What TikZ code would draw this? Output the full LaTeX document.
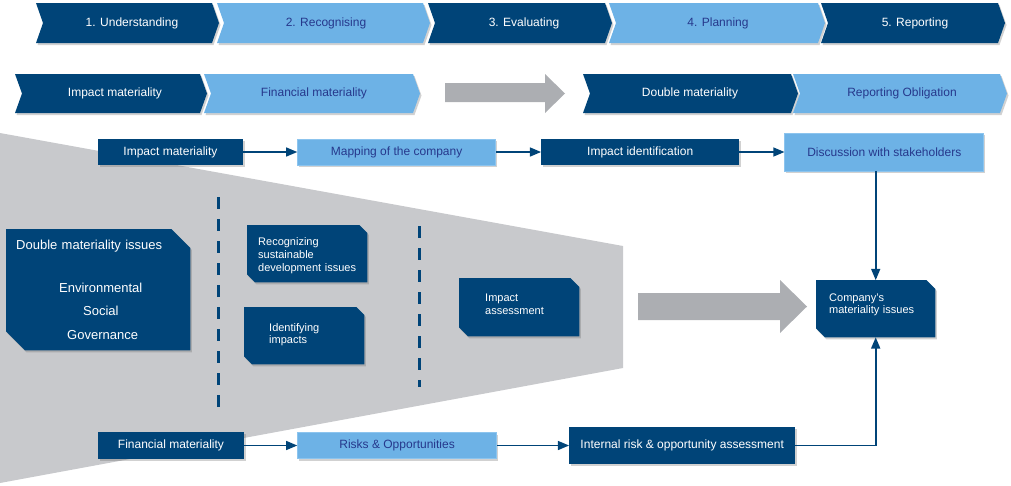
\documentclass[tikz,border=0pt]{standalone}
\usepackage{fontspec}
\setmainfont{Liberation Sans}
\usetikzlibrary{arrows,positioning,shadows,backgrounds}

\definecolor{dkblue}{RGB}{0,68,120}
\definecolor{ltblue}{RGB}{109,178,230}
\definecolor{ltedge}{RGB}{140,196,238}
\definecolor{navytxt}{RGB}{38,56,140}
\definecolor{funnelgray}{RGB}{200,201,204}
\definecolor{arrowgray}{RGB}{172,174,178}

\tikzset{
  shade/.style={drop shadow={shadow xshift=1.5pt,shadow yshift=-2pt,opacity=.3,fill=black!60}},
  flowfont/.style={font=\fontsize{12}{14}\selectfont},
  darkbox/.style={rectangle,fill=dkblue,text=white,inner sep=0pt,shade,flowfont},
  lightbox/.style={rectangle,fill=ltblue,draw=ltedge,line width=.8pt,text=navytxt,inner sep=0pt,shade,flowfont},
  cutbox/.style={rectangle,anchor=north west,align=left,text=white,inner ysep=0pt,
    font=\fontsize{11}{13}\selectfont},
  link/.style={draw=dkblue,line width=1.6pt,->,>=triangle 45},
  sep/.style={draw=dkblue,line width=3pt,dash pattern=on 12pt off 10pt},
}

% fill behind a box with two cut corners
\newcommand{\cutfill}[2]{%
  \fill[dkblue,shade] (#1.north west) -- ([xshift=-#2pt]#1.north east)
    -- ([yshift=-#2pt]#1.north east) -- (#1.south east)
    -- ([xshift=#2pt]#1.south west) -- ([yshift=#2pt]#1.south west) -- cycle;}

\begin{document}
\begin{tikzpicture}[x=1pt,y=-1pt]
\useasboundingbox (0,0) rectangle (1011,485);

% steps
\foreach \l/\r/\col in {36/212/dkblue,217/423/ltblue,428/605/dkblue,609/818/ltblue,821/998/dkblue}
  \fill[\col,shade] (\l,3) -- (\r,3) -- (\r+7,23) -- (\r,43) -- (\l,43) -- (\l+7,23) -- cycle;
\node[flowfont,text=white]   (s1) at (132,23) {1. Understanding};
\node[flowfont,text=navytxt] (s2) at (326,23) {2. Recognising};
\node[flowfont,text=white]   (s3) at (524,23) {3. Evaluating};
\node[flowfont,text=navytxt] (s4) at (718,23) {4. Planning};
\node[flowfont,text=white]   (s5) at (915,23) {5. Reporting};

% materiality row
\foreach \l/\r/\col in {15/200/dkblue,204/413/ltblue,583/791/dkblue,793/1000/ltblue}
  \fill[\col,shade] (\l,74) -- (\r,74) -- (\r+7,93.5) -- (\r,113) -- (\l,113) -- (\l+7,93.5) -- cycle;
\node[flowfont,text=white]   (m1) at (115,93.5) {Impact materiality};
\node[flowfont,text=navytxt] (m2) at (314,93.5) {Financial materiality};
\node[flowfont,text=white]   (m3) at (690,93.5) {Double materiality};
\node[flowfont,text=navytxt] (m4) at (902,93.5) {Reporting Obligation};
\fill[arrowgray] (445,83) -- (545,83) -- (545,74) -- (565,93.5) -- (545,113) -- (545,102) -- (445,102) -- cycle;

% impact flow
\node[darkbox,minimum width=145pt,minimum height=26pt] (imp) at (170.5,152) {Impact materiality};
\node[lightbox,minimum width=198pt,minimum height=26pt,right=54pt of imp] (map) {Mapping of the company};
\node[darkbox,minimum width=198pt,minimum height=26pt,right=45pt of map] (ident) {Impact identification};
\node[lightbox,minimum width=199pt,minimum height=38pt,right=45pt of ident] (disc) {Discussion with stakeholders};

% financial flow
\node[darkbox,minimum width=146pt,minimum height=27pt] (fin) at (171,445.5) {Financial materiality};
\node[lightbox,minimum width=199pt,minimum height=26pt,right=53pt of fin] (risk) {Risks \& Opportunities};
\node[darkbox,minimum width=226pt,minimum height=37pt,right=72pt of risk] (internal) {Internal risk \& opportunity assessment};

% issue boxes
\node[cutbox,inner xsep=10pt,text width=164pt,text height=20.5pt,text depth=100.5pt,
  font=\fontsize{13}{15.6}\selectfont] (dmi) at (6,229)
  {Double materiality issues\\[27pt]\hspace*{43pt}Environmental\\[7.5pt]\hspace*{67pt}Social\\[8.5pt]\hspace*{51pt}Governance};
\node[cutbox,inner xsep=11pt,text width=98pt,text height=20pt,text depth=37pt] (recog) at (247,225)
  {Recognizing\\sustainable\\development issues};
\node[cutbox,inner xsep=25pt,text width=70pt,text height=24pt,text depth=33pt] (identify) at (244,307)
  {Identifying\\[-1pt]impacts};
\node[cutbox,inner xsep=26pt,text width=68pt,text height=23pt,text depth=35pt] (assess) at (459,278)
  {Impact\\assessment};
\node[cutbox,inner xsep=13pt,text width=93pt,text height=21pt,text depth=36pt] (company) at (816,280)
  {Company's\\[-0.5pt]materiality issues};

\begin{pgfonlayer}{background}
  \fill[funnelgray] (0,133) -- (623,246) -- (623,368) -- (0,483) -- cycle;
  \cutfill{dmi}{19}
  \cutfill{recog}{8}
  \cutfill{identify}{8}
  \cutfill{assess}{9}
  \cutfill{company}{9}
\end{pgfonlayer}

\draw[sep] (218,197) -- (218,408);
\draw[sep] (419,226) -- (419,387);
\fill[arrowgray] (638,293) -- (780,293) -- (780,280) -- (807,306.5) -- (780,333) -- (780,320) -- (638,320) -- cycle;

% connectors
\draw[link] (imp) -- (map);
\draw[link] (map) -- (ident);
\draw[link] (ident) -- (disc);
\draw[link] (disc.south -| company.north) -- (company.north);
\draw[link] (fin) -- (risk);
\draw[link] (risk) -- (internal);
\draw[link] (internal.east) -| (company.south);

\end{tikzpicture}
\end{document}
